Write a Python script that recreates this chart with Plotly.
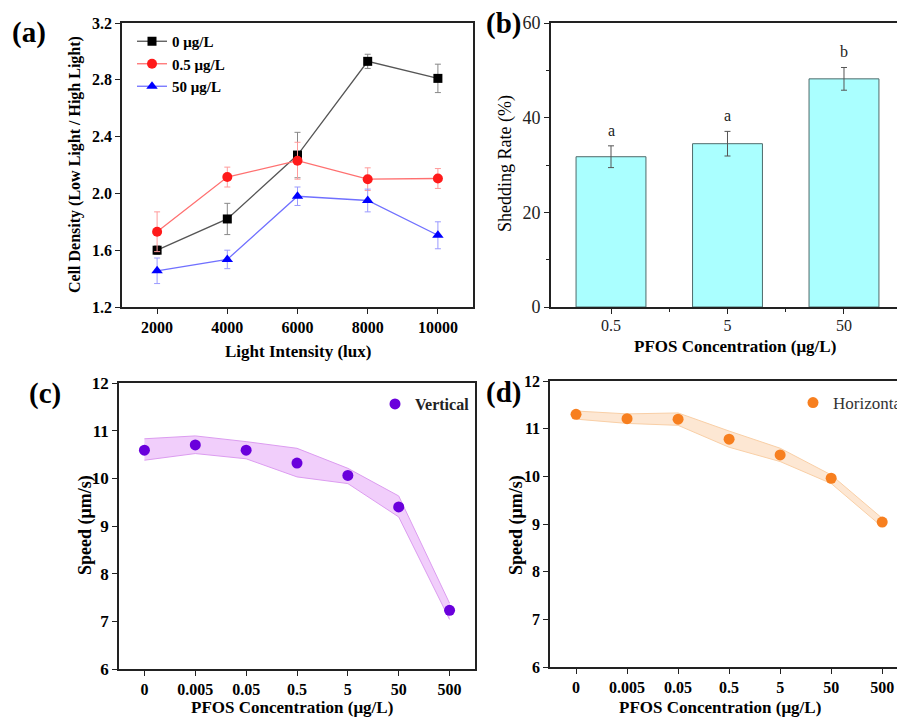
import plotly.graph_objects as go

W, H = 897, 717
SERIF = "Liberation Serif, Times New Roman, serif"

# ---------- data ----------
light = [2000, 4000, 6000, 8000, 10000]
light_labels = ["2000", "4000", "6000", "8000", "10000"]
a_names = ["0 μg/L", "0.5 μg/L", "50 μg/L"]
a_vals = [
    [1.60, 1.82, 2.27, 2.93, 2.81],
    [1.73, 2.115, 2.23, 2.10, 2.105],
    [1.455, 1.535, 1.98, 1.95, 1.705],
]
a_errs = [
    [0.03, 0.11, 0.16, 0.05, 0.10],
    [0.14, 0.07, 0.13, 0.08, 0.07],
    [0.09, 0.065, 0.065, 0.08, 0.095],
]

b_cats = ["0.5", "5", "50"]
b_vals = [31.75, 34.5, 48.2]
b_errs = [2.3, 2.6, 2.4]
b_letters = ["a", "a", "b"]

pfos_cats = ["0", "0.005", "0.05", "0.5", "5", "50", "500"]
vert = [10.59, 10.70, 10.59, 10.32, 10.06, 9.40, 7.23]
vert_up = [10.83, 10.89, 10.77, 10.63, 10.21, 9.63, 7.38]
vert_lo = [10.38, 10.52, 10.41, 10.03, 9.89, 9.19, 7.04]

horiz = [11.30, 11.21, 11.20, 10.78, 10.45, 9.96, 9.04]
horiz_up = [11.37, 11.31, 11.33, 10.95, 10.59, 10.03, 9.12]
horiz_lo = [11.20, 11.11, 11.07, 10.61, 10.31, 9.85, 8.94]

# ---------- helpers ----------
def px(x):
    return x / W

def py(y):
    return 1 - y / H

fig = go.Figure()

# ---------- panel (a) ----------
a_styles = [
    dict(symbol="square", color="black", line="#555555", err="#888888", size=9),
    dict(symbol="circle", color="#ff1a1a", line="#ff7070", err="#ff9a9a", size=10),
    dict(symbol="triangle-up", color="#0000ff", line="#7070ff", err="#9a9aff", size=10),
]
for name, v, e, s in zip(a_names, a_vals, a_errs, a_styles):
    fig.add_trace(go.Scatter(
        x=light, y=v, name=name, mode="lines+markers",
        line=dict(color=s["line"], width=1.3),
        marker=dict(symbol=s["symbol"], color=s["color"], size=s["size"]),
        error_y=dict(type="data", array=e, color=s["err"], thickness=1, width=3),
        xaxis="x", yaxis="y", legend="legend",
    ))

# ---------- panel (b) ----------
b_x = list(range(len(b_cats)))
fig.add_trace(go.Bar(
    x=b_x, y=b_vals, width=0.6, showlegend=False,
    marker=dict(color="#aaffff", line=dict(color="#4f6a6a", width=1)),
    error_y=dict(type="data", array=b_errs, color="#555555", thickness=1, width=3),
    xaxis="x2", yaxis="y2",
))

# ---------- panel (c) ----------
c_x = list(range(len(pfos_cats)))
fig.add_trace(go.Scatter(x=c_x, y=vert_up, mode="lines", showlegend=False,
                         line=dict(color="#dc9cf0", width=1), xaxis="x3", yaxis="y3"))
fig.add_trace(go.Scatter(x=c_x, y=vert_lo, mode="lines", showlegend=False, fill="tonexty",
                         fillcolor="rgba(236,190,250,0.75)",
                         line=dict(color="#dc9cf0", width=1), xaxis="x3", yaxis="y3"))
fig.add_trace(go.Scatter(x=c_x, y=vert, mode="markers", name="Vertical",
                         marker=dict(color="#6a00dc", size=11),
                         xaxis="x3", yaxis="y3", legend="legend3"))

# ---------- panel (d) ----------
fig.add_trace(go.Scatter(x=c_x, y=horiz_up, mode="lines", showlegend=False,
                         line=dict(color="#f9cfa6", width=1), xaxis="x4", yaxis="y4"))
fig.add_trace(go.Scatter(x=c_x, y=horiz_lo, mode="lines", showlegend=False, fill="tonexty",
                         fillcolor="rgba(253,225,200,0.8)",
                         line=dict(color="#f9cfa6", width=1), xaxis="x4", yaxis="y4"))
fig.add_trace(go.Scatter(x=c_x, y=horiz, mode="markers", name="Horizontal",
                         marker=dict(color="#f77f1f", size=11),
                         xaxis="x4", yaxis="y4", legend="legend4"))

# ---------- axes ----------
def bold(size):
    return dict(family=SERIF, size=size, color="black", weight="bold")

reg_tick = dict(family=SERIF, size=16, color="#222222")
axcommon = dict(showline=True, linecolor="#222222", linewidth=1.6, ticks="outside",
                ticklen=5, tickwidth=1.3, tickcolor="#222222", showgrid=False,
                zeroline=False)

fig.update_layout(
    xaxis=dict(**axcommon, domain=[px(122), px(473)], range=[1000, 11000],
               tickvals=light, ticktext=light_labels, tickfont=bold(16), mirror=True, anchor="y"),
    yaxis=dict(**axcommon, domain=[py(307), py(23)], range=[1.2, 3.2],
               tickvals=[1.2, 1.6, 2.0, 2.4, 2.8, 3.2], tickformat=".1f",
               tickfont=bold(16), mirror=True, anchor="x"),
    xaxis2=dict(**axcommon, domain=[px(551), 1.0], range=[-0.515, 2.455],
                tickvals=b_x, ticktext=b_cats, tickfont=reg_tick, mirror=True, anchor="y2",
                ticklabelstandoff=-2,
                minor=dict(tickvals=[0.5, 1.5], ticklen=3, tickcolor="#222222", ticks="outside")),
    yaxis2=dict(**axcommon, domain=[py(307), py(23)], range=[0, 60],
                tickvals=[0, 20, 40, 60], tickfont=dict(reg_tick, size=18), anchor="x2",
                minor=dict(tickvals=[10, 30, 50], ticklen=3, tickcolor="#222222", ticks="outside")),
    xaxis3=dict(**axcommon, domain=[px(119), px(475)], range=[-0.5, 6.5],
                tickvals=c_x, ticktext=pfos_cats, tickfont=bold(16), mirror=True, anchor="y3"),
    yaxis3=dict(**axcommon, domain=[py(669), py(383)], range=[6, 12],
                tickvals=[6, 7, 8, 9, 10, 11, 12], tickfont=bold(17),
                mirror=True, anchor="x3"),
    xaxis4=dict(**axcommon, domain=[px(550), 1.0], range=[-0.51, 6.29],
                tickvals=c_x, ticktext=pfos_cats, tickfont=bold(16), mirror=True, anchor="y4"),
    yaxis4=dict(**axcommon, domain=[py(667), py(381)], range=[6, 12],
                tickvals=[6, 7, 8, 9, 10, 11, 12], tickfont=bold(16),
                anchor="x4"),
)

# ---------- legends ----------
fig.update_layout(
    legend=dict(x=px(132), y=py(25), xanchor="left", yanchor="top",
                bgcolor="rgba(0,0,0,0)", tracegroupgap=0, itemwidth=30,
                traceorder="normal", font=bold(15)),
    legend3=dict(x=px(375), y=py(387), xanchor="left", yanchor="top",
                 bgcolor="rgba(0,0,0,0)",
                 font=dict(family=SERIF, size=16, color="#222222", weight="bold")),
    legend4=dict(x=px(793), y=py(385), xanchor="left", yanchor="top",
                 bgcolor="rgba(0,0,0,0)",
                 font=dict(family=SERIF, size=17, color="#333333")),
)

# ---------- annotations ----------
ann = []
def label(text, x, y, size=29):
    ann.append(dict(text=text, x=px(x), y=py(y), xref="paper", yref="paper",
                    showarrow=False, xanchor="center", yanchor="middle",
                    font=bold(size)))

label("(a)", 29, 33)
label("(b)", 504, 23)
label("(c)", 45, 393)
label("(d)", 503, 392)

def title(text, x, y, angle=0, size=15, is_bold=True):
    ann.append(dict(text=text, x=px(x), y=py(y), xref="paper", yref="paper",
                    showarrow=False, xanchor="center", yanchor="middle", textangle=angle,
                    font=dict(family=SERIF, size=size, color="black",
                              weight="bold" if is_bold else "normal")))

title("Cell Density (Low Light / High Light)", 75, 165, -90, 16)
title("Light Intensity (lux)", 298, 352, 0, 17)
title("Shedding Rate (%)", 506, 164, -90, 18, is_bold=False)
title("PFOS Concentration (μg/L)", 735, 346, 0, 17)
title("Speed (μm/s)", 85, 525, -90, 18)
title("PFOS Concentration (μg/L)", 292, 707, 0, 17)
title("Speed (μm/s)", 516, 525, -90, 18)
title("PFOS Concentration (μg/L)", 720, 707, 0, 17)

for xi, v, e, t in zip(b_x, b_vals, b_errs, b_letters):
    ann.append(dict(text=t, x=xi, y=v + e, xref="x2", yref="y2", showarrow=False,
                    yanchor="bottom", yshift=5,
                    font=dict(family=SERIF, size=16, color="#222222")))

fig.update_layout(
    annotations=ann,
    width=W, height=H,
    margin=dict(l=0, r=0, t=0, b=0, autoexpand=False),
    paper_bgcolor="white", plot_bgcolor="white",
    font=dict(family=SERIF, color="black"),
    showlegend=True,
)

fig.write_html("out.html")
